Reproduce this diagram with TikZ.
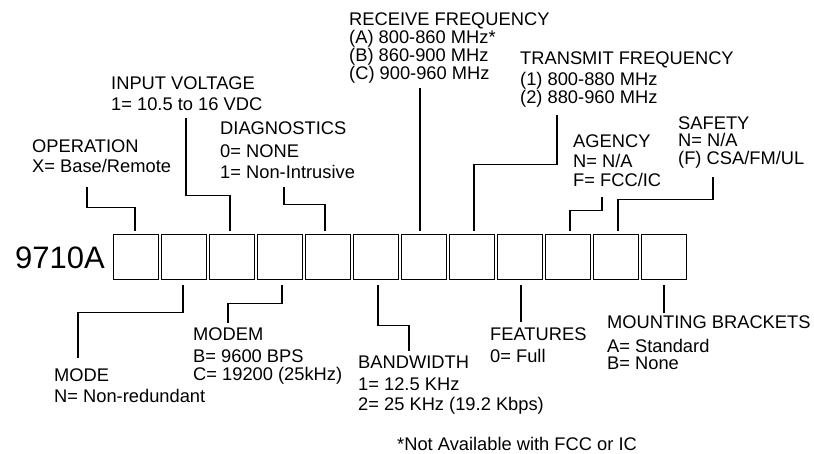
\documentclass[tikz,border=0pt]{standalone}
\usepackage{fontspec}
\setmainfont{Liberation Sans}
\usetikzlibrary{positioning}

\begin{document}
\begin{tikzpicture}[x=1pt,y=1pt,node distance=48pt]
        \tikzstyle{digit_box} = [rectangle, draw=black, line width=1.1pt, minimum size=45pt, inner sep=0pt]
        \tikzstyle{field_text} = [anchor=north west, inner sep=0pt, align=left, font=\fontsize{18.3}{18.5}\selectfont]
        \tikzstyle{leader} = [line width=1.1pt]
        \useasboundingbox (0,0) rectangle (814,453);
        \node (part_number) [anchor=base east, inner sep=0pt, font=\fontsize{31}{31}\selectfont] at (105,184) {9710A};
        \node (pos_1) [digit_box] at (136,196) {};
        \node (pos_2) [digit_box, right of=pos_1] {};
        \node (pos_3) [digit_box, right of=pos_2] {};
        \node (pos_4) [digit_box, right of=pos_3] {};
        \node (pos_5) [digit_box, right of=pos_4] {};
        \node (pos_6) [digit_box, right of=pos_5] {};
        \node (pos_7) [digit_box, right of=pos_6] {};
        \node (pos_8) [digit_box, right of=pos_7] {};
        \node (pos_9) [digit_box, right of=pos_8] {};
        \node (pos_10) [digit_box, right of=pos_9] {};
        \node (pos_11) [digit_box, right of=pos_10] {};
        \node (pos_12) [digit_box, right of=pos_11] {};
        % fields above the boxes
        \node (operation) [field_text] at (32,313) {OPERATION\\[1.5pt]X= Base/Remote};
        \node (input_voltage) [field_text] at (111,376) {INPUT VOLTAGE\\[2.5pt]1= 10.5 to 16 VDC};
        \node (diagnostics) [field_text] at (220,331) {DIAGNOSTICS\\[4.5pt]0= NONE\\[2.5pt]1= Non-Intrusive};
        \node (receive_freq) [field_text] at (349,440) {RECEIVE FREQUENCY\\[-0.5pt](A) 800-860 MHz*\\[-0.5pt](B) 860-900 MHz\\[-0.5pt](C) 900-960 MHz};
        \node (transmit_freq) [field_text] at (520,401) {TRANSMIT FREQUENCY\\[2.5pt](1) 800-880 MHz\\[-0.5pt](2) 880-960 MHz};
        \node (agency) [field_text] at (573,318) {AGENCY\\[1.5pt]N= N/A\\[0.5pt]F= FCC/IC};
        \node (safety) [field_text] at (678,336) {SAFETY\\[-1.5pt]N= N/A\\[-0.5pt](F) CSA/FM/UL};
        % fields below the boxes
        \node (mode) [field_text] at (54,84) {MODE\\[2.5pt]N= Non-redundant};
        \node (modem) [field_text] at (193,125) {MODEM\\[3.5pt]B= 9600 BPS\\[-0.5pt]C= 19200 (25kHz)};
        \node (bandwidth) [field_text] at (358,97) {BANDWIDTH\\[3.5pt]1= 12.5 KHz\\[1.5pt]2= 25 KHz (19.2 Kbps)};
        \node (features) [field_text] at (490,125) {FEATURES\\[3.5pt]0= Full};
        \node (mounting) [field_text] at (607,137) {MOUNTING BRACKETS\\[5.5pt]A= Standard\\[-1.5pt]B= None};
        \node (footnote) [field_text] at (397,16) {*Not Available with FCC or IC};
        % leaders
        \draw[leader] ([xshift=-1pt,yshift=3pt]pos_1.north) -- ++(0,23) -| ([xshift=55pt,yshift=-47pt]operation.north west);
        \draw[leader] ([xshift=-2pt,yshift=3pt]pos_3.north) -- ++(0,35) -| ([xshift=75pt,yshift=-41pt]input_voltage.north west);
        \draw[leader] ([xshift=-3pt,yshift=3pt]pos_5.north) -- ++(0,26) -| ([xshift=64pt,yshift=-65pt]diagnostics.north west);
        \draw[leader] ([xshift=-4pt,yshift=3pt]pos_7.north) -- ([xshift=-4pt,yshift=-75pt]receive_freq.north -| pos_7.north);
        \draw[leader] ([xshift=2pt,yshift=3pt]pos_8.north) -- ++(0,66) -| ([xshift=37pt,yshift=-63pt]transmit_freq.north west);
        \draw[leader] ([xshift=2pt,yshift=3pt]pos_10.north) -- ++(0,20) -| ([xshift=29pt,yshift=-62pt]agency.north west);
        \draw[leader] ([xshift=2pt,yshift=3pt]pos_11.north) -- ++(0,31) -| ([xshift=35pt,yshift=-60pt]safety.north west);
        \draw[leader] ([xshift=-1pt,yshift=-5pt]pos_2.south) -- ++(0,-27) -| ([xshift=24pt,yshift=11pt]mode.north west);
        \draw[leader] ([xshift=2pt,yshift=-5pt]pos_4.south) -- ++(0,-18) -| ([xshift=35pt,yshift=5pt]modem.north west);
        \draw[leader] ([xshift=2pt,yshift=-5pt]pos_6.south) -- ++(0,-40) -| ([xshift=51pt,yshift=5pt]bandwidth.north west);
        \draw[leader] ([xshift=1pt,yshift=-5pt]pos_9.south) -- ([xshift=1pt,yshift=6pt]features.north -| pos_9.south);
        \draw[leader] ([yshift=-5pt]pos_12.south) -- ([yshift=3pt]mounting.north -| pos_12.south);
\end{tikzpicture}
\end{document}
